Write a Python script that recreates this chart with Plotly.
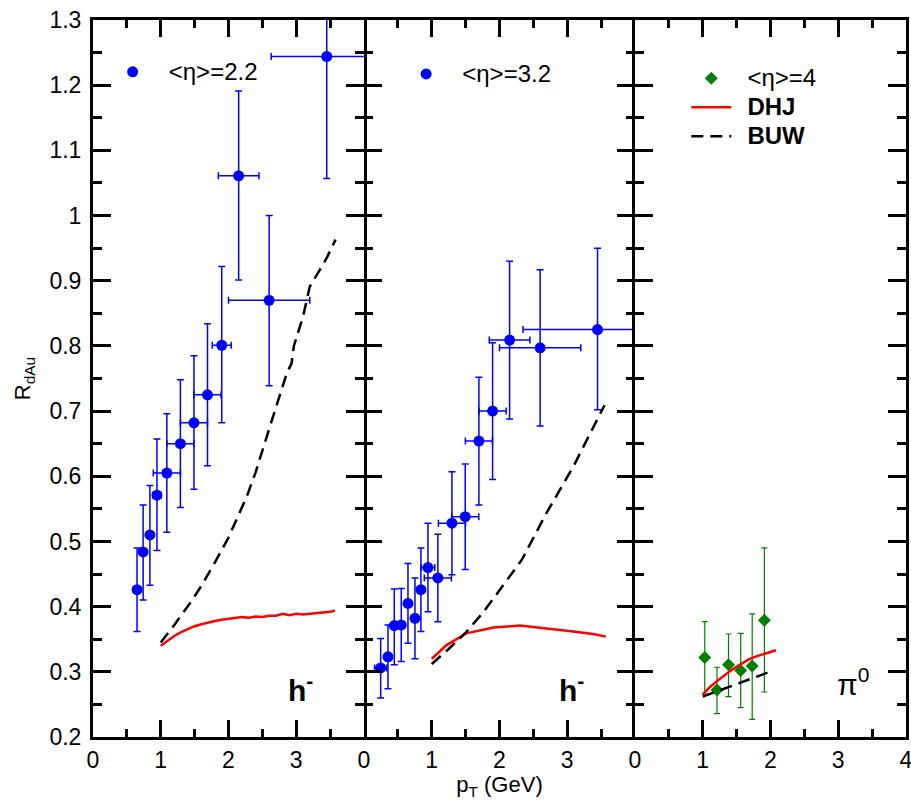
import plotly.graph_objects as go
from plotly.subplots import make_subplots

# ---------------- data ----------------
# Panel 1: <eta>=2.2, h-
x1 = [0.65, 0.74, 0.84, 0.944, 1.09, 1.29, 1.49, 1.69, 1.90, 2.15, 2.60, 3.45]
y1 = [0.426, 0.484, 0.510, 0.571, 0.605, 0.650, 0.682, 0.725, 0.801, 1.061, 0.870, 1.244]
ey1_plus = [0.064, 0.072, 0.076, 0.086, 0.091, 0.098, 0.103, 0.109, 0.121, 0.130, 0.130, 0.190]
ey1_minus = [0.064, 0.074, 0.077, 0.085, 0.091, 0.098, 0.102, 0.109, 0.119, 0.160, 0.131, 0.187]
ex1_plus = [0.05, 0.03, 0.03, 0.06, 0.2, 0.2, 0.2, 0.2, 0.14, 0.3, 0.6, 0.82]
ex1_minus = [0.05, 0.03, 0.03, 0.06, 0.2, 0.2, 0.2, 0.2, 0.14, 0.3, 0.6, 0.82]

# Panel 2: <eta>=3.2, h-
x2 = [0.246, 0.354, 0.447, 0.55, 0.649, 0.752, 0.84, 0.944, 1.09, 1.298, 1.494, 1.696, 1.898, 2.149, 2.60, 3.447]
y2 = [0.306, 0.323, 0.371, 0.372, 0.405, 0.382, 0.426, 0.460, 0.444, 0.528, 0.538, 0.654, 0.700, 0.809, 0.797, 0.825]
ey2_plus = [0.045, 0.049, 0.056, 0.056, 0.061, 0.062, 0.064, 0.068, 0.067, 0.079, 0.081, 0.098, 0.105, 0.121, 0.120, 0.125]
ey2_minus = [0.046, 0.049, 0.060, 0.056, 0.061, 0.062, 0.064, 0.068, 0.067, 0.079, 0.081, 0.098, 0.105, 0.121, 0.120, 0.123]
ex2_plus = [0.09, 0.03, 0.03, 0.03, 0.03, 0.03, 0.03, 0.1, 0.2, 0.2, 0.2, 0.2, 0.2, 0.3, 0.6, 0.62]
ex2_minus = [0.09, 0.03, 0.03, 0.03, 0.03, 0.03, 0.03, 0.1, 0.2, 0.2, 0.2, 0.2, 0.2, 0.3, 0.6, 1.1]

# Panel 3: <eta>=4, pi0
x3 = [1.03, 1.21, 1.38, 1.56, 1.73, 1.91]
y3 = [0.322, 0.272, 0.311, 0.302, 0.309, 0.379]
ey3_plus = [0.055, 0.035, 0.047, 0.057, 0.080, 0.111]
ey3_minus = [0.056, 0.036, 0.049, 0.057, 0.082, 0.110]

# Theory curves
dhj1_x = [1.0, 1.1, 1.2, 1.3, 1.4, 1.5, 1.6, 1.7, 1.8, 1.9, 2.0, 2.1, 2.2, 2.3, 2.4, 2.5,
          2.6, 2.7, 2.8, 2.9, 3.0, 3.1, 3.2, 3.3, 3.4, 3.5, 3.57]
dhj1_y = [0.340, 0.348, 0.355, 0.361, 0.366, 0.370, 0.373, 0.376, 0.378, 0.380, 0.381, 0.382,
          0.384, 0.383, 0.385, 0.384, 0.386, 0.386, 0.389, 0.387, 0.389, 0.388, 0.389, 0.389,
          0.390, 0.392, 0.394]
buw1_x = [1.0, 1.2, 1.43, 1.6, 1.8, 1.9, 2.0, 2.27, 2.4, 2.61, 2.8, 2.86, 2.93, 2.965, 3.1, 3.2, 3.35, 3.45, 3.58]
buw1_y = [0.345, 0.372, 0.405, 0.432, 0.468, 0.487, 0.506, 0.569, 0.606, 0.676, 0.740, 0.758, 0.773, 0.800, 0.845, 0.891, 0.917, 0.935, 0.963]

dhj2_x = [1.0, 1.22, 1.51, 1.91, 2.30, 2.69, 3.09, 3.38, 3.57]
dhj2_y = [0.320, 0.341, 0.359, 0.368, 0.371, 0.367, 0.362, 0.358, 0.354]
buw2_x = [1.0, 1.25, 1.5, 1.75, 2.0, 2.33, 2.69, 3.09, 3.55]
buw2_y = [0.312, 0.335, 0.360, 0.390, 0.425, 0.472, 0.543, 0.615, 0.709]

dhj3_x = [1.0, 1.1, 1.2, 1.3, 1.43, 1.55, 1.68, 1.8, 1.95, 2.08]
dhj3_y = [0.265, 0.276, 0.285, 0.293, 0.303, 0.311, 0.319, 0.324, 0.329, 0.333]
buw3_x = [1.0, 1.5, 1.99]
buw3_y = [0.262, 0.281, 0.300]

x_ticks_12 = [0, 1, 2, 3]
x_ticks_3 = [0, 1, 2, 3, 4]

# ---------------- figure ----------------
BLUE = "#0000ff"
GREEN = "#008000"
RED = "#ff0000"
SP = "&nbsp;&nbsp;"

def leg_name(txt):
    return SP + "<span style='font-size:24px'>" + txt + "</span>"

fig = make_subplots(rows=1, cols=3, shared_yaxes=True, horizontal_spacing=0)

def data_trace(x, y, eyp, eym, name, legend, color, symbol, size, exp=None, exm=None, ew=1.5, cap=3.5):
    kw = {}
    if exp is not None:
        kw["error_x"] = dict(type="data", symmetric=False, array=exp, arrayminus=exm,
                             color=color, thickness=ew, width=cap)
    return go.Scatter(x=x, y=y, mode="markers", name=name, legend=legend,
                      marker=dict(color=color, symbol=symbol, size=size),
                      error_y=dict(type="data", symmetric=False, array=eyp, arrayminus=eym,
                                   color=color, thickness=ew, width=cap),
                      **kw)

fig.add_trace(data_trace(x1, y1, ey1_plus, ey1_minus, leg_name("&lt;η&gt;=2.2"), "legend", BLUE,
                         "circle", 11, ex1_plus, ex1_minus), row=1, col=1)
fig.add_trace(go.Scatter(x=dhj1_x, y=dhj1_y, mode="lines", showlegend=False,
                         line=dict(color=RED, width=2.5)), row=1, col=1)
fig.add_trace(go.Scatter(x=buw1_x, y=buw1_y, mode="lines", showlegend=False,
                         line=dict(color="black", width=2.5, dash="12px,7px")), row=1, col=1)

fig.add_trace(data_trace(x2, y2, ey2_plus, ey2_minus, leg_name("&lt;η&gt;=3.2"), "legend2", BLUE,
                         "circle", 11, ex2_plus, ex2_minus), row=1, col=2)
fig.add_trace(go.Scatter(x=dhj2_x, y=dhj2_y, mode="lines", showlegend=False,
                         line=dict(color=RED, width=2.5)), row=1, col=2)
fig.add_trace(go.Scatter(x=buw2_x, y=buw2_y, mode="lines", showlegend=False,
                         line=dict(color="black", width=2.5, dash="12px,7px")), row=1, col=2)

fig.add_trace(data_trace(x3, y3, ey3_plus, ey3_minus, leg_name("&lt;η&gt;=4"), "legend3", GREEN,
                         "diamond", 10, ew=1.2, cap=3), row=1, col=3)
fig.add_trace(go.Scatter(x=dhj3_x, y=dhj3_y, mode="lines", name=leg_name("<b>DHJ</b>"), legend="legend3",
                         line=dict(color=RED, width=2.5)), row=1, col=3)
fig.add_trace(go.Scatter(x=buw3_x, y=buw3_y, mode="lines", name=leg_name("<b>BUW</b>"), legend="legend3",
                         line=dict(color="black", width=2.5, dash="12px,7px")), row=1, col=3)

FONT = "Liberation Sans, Arial, sans-serif"
axis_common = dict(showline=True, linecolor="black", linewidth=3, mirror="allticks",
                   ticks="inside", tickcolor="black", tickwidth=2.5, showgrid=False,
                   zeroline=False, automargin=False, ticklabeloverflow="allow")

for i, tv in zip([1, 2, 3], [x_ticks_12, x_ticks_12, x_ticks_3]):
    fig.update_xaxes(range=[0, 4], tickvals=tv, ticklen=17,
                     minor=dict(ticks="inside", ticklen=8, tickwidth=2.5, tickcolor="black",
                                dtick=0.5, tick0=0, showgrid=False),
                     tickfont=dict(size=23, color="black", family=FONT),
                     row=1, col=i, **axis_common)

for i in [1, 2, 3]:
    fig.update_yaxes(range=[0.2, 1.3], dtick=0.1, tick0=0.2, ticklen=18,
                     minor=dict(ticks="inside", ticklen=9, tickwidth=2.5, tickcolor="black",
                                dtick=0.05, tick0=0.2, showgrid=False),
                     tickfont=dict(size=23, color="black", family=FONT),
                     row=1, col=i, **axis_common)

# the middle panel's vertical borders are drawn by its neighbours
fig.update_yaxes(showline=False, row=1, col=2)

fig.update_yaxes(title=dict(text="R<sub>dAu</sub>", font=dict(size=22, color="black", family=FONT),
                            standoff=13), ticklabelstandoff=4, row=1, col=1)
fig.update_xaxes(title=dict(text="p<sub>T</sub> (GeV)", font=dict(size=22, color="black", family=FONT),
                            standoff=7), row=1, col=2)

legend_style = dict(bgcolor="rgba(0,0,0,0)", borderwidth=0,
                    font=dict(size=20, color="black", family=FONT),
                    itemwidth=40, tracegroupgap=0, xanchor="left", yanchor="top")
fig.update_layout(
    legend=dict(x=0.018, y=0.955, **legend_style),
    legend2=dict(x=0.379, y=0.952, **legend_style),
    legend3=dict(x=0.7298, y=0.946, **legend_style),
)

ann_font = dict(size=30, color="black", family=FONT)
fig.add_annotation(x=2.85, y=0.275, xref="x", yref="y", text="<b>h<sup>-</sup></b>",
                   showarrow=False, xanchor="left", yanchor="middle", font=ann_font)
fig.add_annotation(x=2.85, y=0.275, xref="x2", yref="y", text="<b>h<sup>-</sup></b>",
                   showarrow=False, xanchor="left", yanchor="middle", font=ann_font)
fig.add_annotation(x=2.95, y=0.285, xref="x3", yref="y", text="π<sup>0</sup>",
                   showarrow=False, xanchor="left", yanchor="middle", font=ann_font)

fig.update_layout(
    width=911, height=800,
    margin=dict(l=93, r=5, t=20, b=63, autoexpand=False),
    paper_bgcolor="white", plot_bgcolor="white",
    font=dict(family=FONT, color="black"),
)

fig.write_html("out.html", config={"displayModeBar": False},
               post_script="document.body.style.margin='0px';")
